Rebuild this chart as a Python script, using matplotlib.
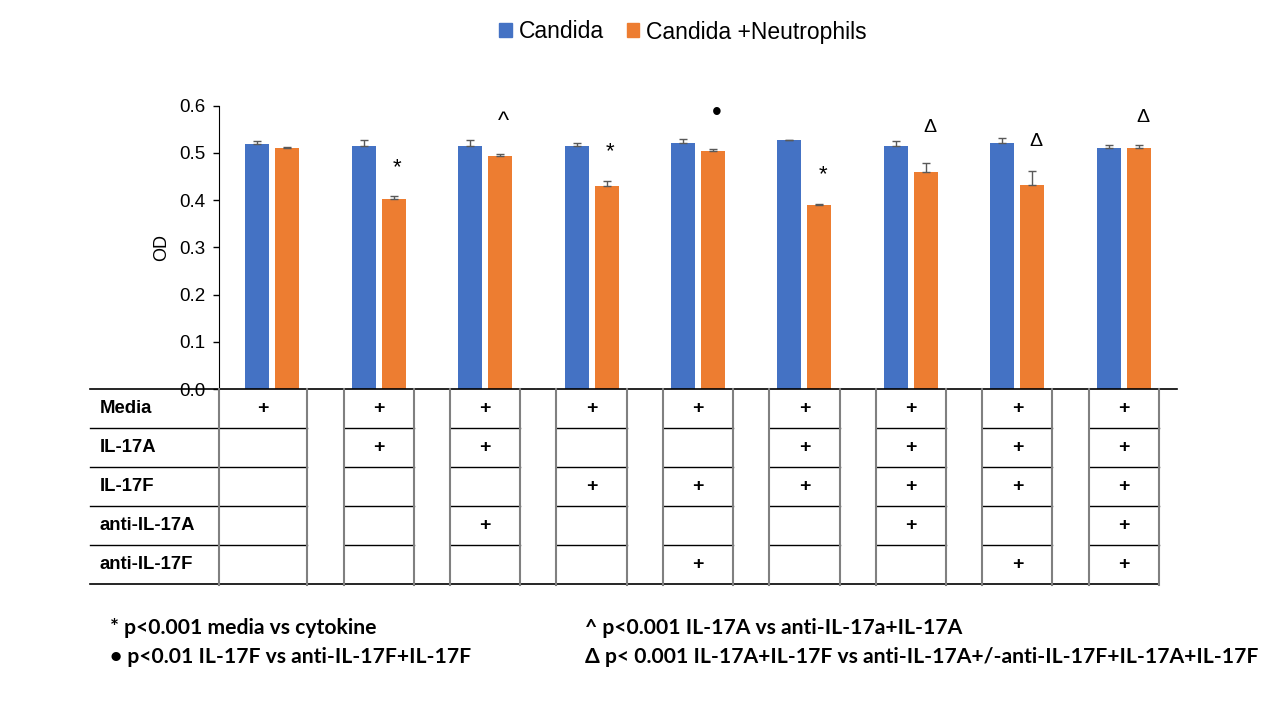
import matplotlib
matplotlib.use('Agg')
import matplotlib.pyplot as plt
from matplotlib.patches import Patch
import numpy as np

plt.rcParams['font.family'] = ['Liberation Sans', 'DejaVu Sans']

# ---------------- data ----------------
series_names = ['Candida', 'Candida +Neutrophils']
candida = [0.519, 0.515, 0.515, 0.515, 0.521, 0.527, 0.515, 0.521, 0.510]
candida_err = [0.007, 0.012, 0.012, 0.006, 0.008, 0.001, 0.010, 0.010, 0.006]
neutro = [0.510, 0.402, 0.493, 0.430, 0.504, 0.390, 0.460, 0.432, 0.510]
neutro_err = [0.003, 0.006, 0.004, 0.011, 0.004, 0.0015, 0.019, 0.030, 0.006]
sig_marks = ['', '*', '^', '*', '\u2022', '*', '\u0394', '\u0394', '\u0394']
yticks = [0.0, 0.1, 0.2, 0.3, 0.4, 0.5, 0.6]
y_label = 'OD'

table_rows = ['Media', 'IL-17A', 'IL-17F', 'anti-IL-17A', 'anti-IL-17F']
treatments = [
    [1, 1, 1, 1, 1, 1, 1, 1, 1],
    [0, 1, 1, 0, 0, 1, 1, 1, 1],
    [0, 0, 0, 1, 1, 1, 1, 1, 1],
    [0, 0, 1, 0, 0, 0, 1, 0, 1],
    [0, 0, 0, 0, 1, 0, 0, 1, 1],
]

footnotes_left = ['* p<0.001 media vs cytokine',
                  '\u2022 p<0.01 IL-17F vs anti-IL-17F+IL-17F']
footnotes_right = ['^ p<0.001 IL-17A vs anti-IL-17a+IL-17A',
                   '\u0394 p< 0.001 IL-17A+IL-17F vs anti-IL-17A+/-anti-IL-17F+IL-17A+IL-17F']

# ---------------- layout ----------------
BLUE = '#4472C4'
ORANGE = '#ED7D31'
W, H = 1280, 720
ax_left, ax_right, ax_bottom, ax_top = 219, 1177, 389, 105.7
n = len(candida)
cat_px = (ax_right - ax_left) / n
off = 15 / cat_px
bw = 24 / cat_px
sig_y = [None, 0.4695, 0.566, 0.5026, 0.584, 0.453, 0.553, 0.524, 0.575]
sig_size = {'*': 16, '^': 17, '\u2022': 20, '\u0394': 14}

fig = plt.figure(figsize=(12.8, 7.2), dpi=100)
ax = fig.add_axes([ax_left / W, 1 - ax_bottom / H, (ax_right - ax_left) / W, (ax_bottom - ax_top) / H])
x = np.arange(n)
ekw = dict(ecolor='#595959', elinewidth=1, capsize=3, capthick=1)
ax.bar(x - off, candida, bw, color=BLUE, yerr=[np.zeros(n), candida_err], error_kw=ekw, zorder=2)
ax.bar(x + off, neutro, bw, color=ORANGE, yerr=[np.zeros(n), neutro_err], error_kw=ekw, zorder=2)

for i, m in enumerate(sig_marks):
    if m:
        ax.text(i + off + 0.035, sig_y[i], m, ha='center', va='center', fontsize=sig_size[m], color='black')

ax.set_xlim(-0.5, n - 0.5)
ax.set_ylim(0, 0.6)
ax.set_yticks(yticks)
ax.set_yticklabels([f'{v:.1f}' for v in yticks], fontsize=13.5)
ax.set_xticks([])
ax.tick_params(axis='y', length=4, width=1, pad=6, colors='black')
for s in ['top', 'right', 'bottom']:
    ax.spines[s].set_visible(False)
ax.spines['left'].set_color('black')
ax.set_ylabel(y_label, fontsize=13, labelpad=6)

# ---------------- table ----------------
lab_left = 90
tab_bottom = 584
tax = fig.add_axes([lab_left / W, 1 - tab_bottom / H, (ax_right - lab_left) / W, (tab_bottom - ax_bottom) / H])
xmin = -0.5 - (ax_left - lab_left) / cat_px
tax.set_xlim(xmin, n - 0.5)
tax.set_ylim(len(table_rows), 0)
tax.axis('off')
half = 0.33
edges = [(-0.5 if i == 0 else i - half, i + half) for i in range(n)]
nr = len(table_rows)
tax.plot([xmin, n - 0.5], [0, 0], color='black', lw=1.2, clip_on=False)
tax.plot([xmin, edges[-1][1]], [nr, nr], color='black', lw=1.2, clip_on=False)
for r in range(1, nr):
    tax.plot([xmin, edges[0][1]], [r, r], color='black', lw=1, clip_on=False)
    for (a, b) in edges[1:]:
        tax.plot([a, b], [r, r], color='black', lw=1, clip_on=False)
for (a, b) in edges:
    for xx in (a, b):
        tax.plot([xx, xx], [0, nr + 0.03], color='#808080', lw=1.5, clip_on=False)
for r, lab in enumerate(table_rows):
    tax.text(xmin + 10 / cat_px, r + 0.5, lab, ha='left', va='center', fontsize=13.3, fontweight='bold')
    for i in range(n):
        if treatments[r][i]:
            cx = (edges[i][0] + edges[i][1]) / 2
            tax.text(cx, r + 0.5, '+', ha='center', va='center', fontsize=14, fontweight='bold')

# ---------------- legend ----------------
handles = [Patch(color=BLUE, label=series_names[0]), Patch(color=ORANGE, label=series_names[1])]
fig.legend(handles=handles, loc='center', bbox_to_anchor=(683 / W, 1 - 32 / H), ncol=2, frameon=False,
           fontsize=16.5, handlelength=0.55, handleheight=0.55, handletextpad=0.3, columnspacing=1.0)

# ---------------- footnotes ----------------
fn_family = ['Lato', 'DejaVu Sans']
texts = []
for j, t in enumerate(footnotes_left):
    texts.append(fig.text(110 / W, 1 - (628 + 29 * j) / H, t, ha='left', va='center', fontsize=13,
                          fontweight='bold', family=fn_family))
for j, t in enumerate(footnotes_right):
    texts.append(fig.text(585 / W, 1 - (628 + 29 * j) / H, t, ha='left', va='center', fontsize=13,
                          fontweight='bold', family=fn_family))
fig.canvas.draw()
wlong = texts[-1].get_window_extent().width
scale = 670 / wlong
for t in texts:
    t.set_fontsize(13 * scale)

fig.savefig('out.png', dpi=100)
